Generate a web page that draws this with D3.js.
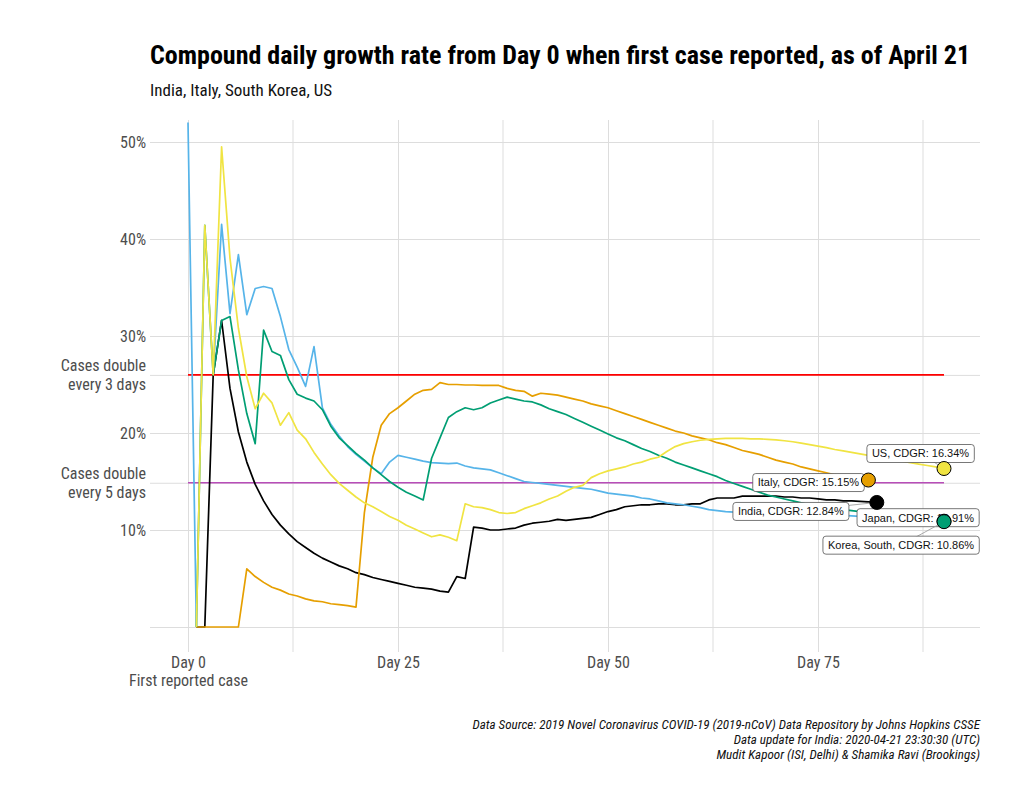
<!DOCTYPE html>
<html><head><meta charset="utf-8">
<script src="https://cdn.jsdelivr.net/npm/d3@7"></script>
<style>body{margin:0;background:#fff} svg{display:block}</style>
</head><body><svg id="chart" width="1024" height="806"></svg>
<script>
// ---------------- DATA ----------------
const countries = ["India", "Italy", "Japan", "Korea, South", "US"];
const startDays = [1, 1, 0, 1, 1];

const indiaValues = [0, 0, 26.0, 31.6, 24.6, 20.1, 17.0, 14.7, 13.0, 11.6, 10.5, 9.6, 8.8, 8.2, 7.6, 7.1, 6.7, 6.3, 6.0, 5.6,
  5.4, 5.1, 4.9, 4.7, 4.5, 4.3, 4.1, 4.0, 3.9, 3.7, 3.6, 5.2, 5.0, 10.3, 10.2, 10.0, 10.0, 10.1, 10.2, 10.5,
  10.7, 10.8, 10.9, 11.1, 11.0, 11.1, 11.2, 11.3, 11.6, 11.9, 12.1, 12.4, 12.5, 12.6, 12.6, 12.7, 12.7, 12.6, 12.6, 12.7,
  12.7, 13.1, 13.3, 13.3, 13.3, 13.5, 13.5, 13.5, 13.5, 13.5, 13.4, 13.4, 13.3, 13.3, 13.2, 13.1, 13.1, 13.0, 13.0, 12.95,
  12.9, 12.84];

const italyValues = [0, 0, 0, 0, 0, 0, 6.0, 5.2, 4.6, 4.1, 3.8, 3.4, 3.2, 2.9, 2.7, 2.6, 2.4, 2.3, 2.2, 2.05,
  11.8, 17.5, 20.8, 22.0, 22.6, 23.3, 24.0, 24.4, 24.5, 25.2, 25.0, 25.0, 24.95, 24.95, 24.9, 24.9, 24.9, 24.6, 24.4, 24.3,
  23.8, 24.1, 24.0, 23.9, 23.7, 23.5, 23.3, 23.0, 22.8, 22.6, 22.3, 22.0, 21.7, 21.4, 21.1, 20.8, 20.5, 20.2, 20.0, 19.7,
  19.5, 19.3, 19.0, 18.8, 18.5, 18.2, 18.0, 17.8, 17.5, 17.2, 17.0, 16.8, 16.5, 16.3, 16.1, 15.9, 15.7, 15.6, 15.4, 15.3,
  15.15];

const japanValues = [52.0, 0, null, 26.0, 41.5, 32.3, 38.4, 32.2, 34.9, 35.1, 34.9, 32.0, 28.6, 26.8, 24.8, 28.9, 22.6, 20.9, 19.7, 18.6,
  17.8, 17.1, 16.4, 15.8, 17.0, 17.7, 17.5, 17.3, 17.1, 16.95, 16.9, 16.85, 16.9, 16.6, 16.4, 16.3, 16.2, 15.9, 15.6, 15.3,
  15.0, 14.9, 14.8, 14.7, 14.6, 14.5, 14.4, 14.3, 14.2, 14.0, 13.8, 13.7, 13.6, 13.5, 13.3, 13.2, 13.0, 12.8, 12.7, 12.6,
  12.45, 12.3, 12.1, 12.0, 11.9, 11.85, 11.8, 11.8, 11.75, 11.7, 11.7, 11.65, 11.6, 11.6, 11.55, 11.55, 11.5, 11.5, 11.5, 11.45,
  11.4, 11.35, 11.3, 11.25, 11.2, 11.15, 11.1, 11.05, 11.0, 10.95, 10.91];

const koreaValues = [0, 41.4, 26.0, 31.6, 32.0, 26.5, 22.0, 18.9, 30.6, 28.4, 28.0, 25.5, 24.0, 23.6, 23.3, 22.4, 20.7, 19.5, 18.7, 17.9,
  17.2, 16.4, 15.7, 15.0, 14.4, 13.9, 13.5, 13.1, 17.4, 19.5, 21.6, 22.2, 22.6, 22.4, 22.6, 23.1, 23.4, 23.7, 23.5, 23.3,
  23.2, 22.9, 22.5, 22.2, 21.9, 21.5, 21.1, 20.7, 20.3, 19.9, 19.5, 19.2, 18.8, 18.4, 18.1, 17.7, 17.4, 17.0, 16.7, 16.4,
  16.1, 15.8, 15.5, 15.1, 14.8, 14.5, 14.2, 13.9, 13.6, 13.4, 13.2, 13.0, 12.8, 12.6, 12.5, 12.3, 12.2, 12.1, 12.0, 11.9,
  11.8, 11.7, 11.6, 11.5, 11.35, 11.25, 11.15, 11.05, 10.95, 10.86];

const usValues = [0, 41.4, 26.0, 49.5, 38.0, 30.8, 25.8, 22.5, 24.1, 23.1, 20.8, 22.1, 20.3, 19.4, 18.0, 16.8, 15.7, 14.8, 14.1, 13.4,
  12.8, 12.4, 11.9, 11.4, 11.0, 10.5, 10.1, 9.7, 9.3, 9.5, 9.25, 8.9, 12.7, 12.4, 12.3, 12.1, 11.8, 11.7, 11.8, 12.2,
  12.5, 12.8, 13.2, 13.5, 14.0, 14.4, 14.6, 15.4, 15.8, 16.1, 16.3, 16.5, 16.8, 17.0, 17.3, 17.5, 18.1, 18.6, 18.9, 19.1,
  19.25, 19.35, 19.4, 19.45, 19.45, 19.45, 19.4, 19.4, 19.35, 19.3, 19.2, 19.1, 18.95, 18.8, 18.65, 18.5, 18.3, 18.15, 18.0, 17.85,
  17.7, 17.55, 17.4, 17.25, 17.1, 16.95, 16.8, 16.65, 16.5, 16.34];

const endLabels = ["India, CDGR: 12.84%", "Italy, CDGR: 15.15%", "Japan, CDGR: 10.91%",
                   "Korea, South, CDGR: 10.86%", "US, CDGR: 16.34%"];

const xTickValues = [0, 25, 50, 75];
const xTickLabels = [["Day 0", "First reported case"], ["Day 25"], ["Day 50"], ["Day 75"]];
const xMinorTicks = [12.5, 37.5, 62.5, 87.5];
const yTickValues = [0, 10, 14.87, 20, 25.99, 30, 40, 50];
const yTickLabels = [[""], ["10%"], ["Cases double", "every 5 days"], ["20%"], ["Cases double", "every 3 days"], ["30%"], ["40%"], ["50%"]];
const refValues = [25.99, 14.87];
const refEndDay = 90;

const titleText = "Compound daily growth rate from Day 0 when first case reported, as of April 21";
const subtitleText = "India, Italy, South Korea, US";
const captionLines = [
  "Data Source: 2019 Novel Coronavirus COVID-19 (2019-nCoV) Data Repository by Johns Hopkins CSSE",
  "Data update for India: 2020-04-21 23:30:30 (UTC)",
  "Mudit Kapoor (ISI, Delhi) & Shamika Ravi (Brookings)"
];

// ---------------- STYLE / LAYOUT ----------------
const seriesColors = ["#000000", "#E69F00", "#56B4E9", "#009E73", "#F0E442"];
const refColors = ["#FF0000", "#B84DB8"];
const labelOffsets = [[-86, 9], [-60, 2.5], [-26, -3.5], [-43, 23.5], [-23.5, -15]];
const narrow = "'Liberation Sans Narrow','Arial Narrow','Roboto Condensed',sans-serif";
const regular = "'Liberation Sans',Arial,Helvetica,sans-serif";
const panel = {left: 150, right: 980, top: 120, bottom: 652};
const gridColor = "#dddddd";
const textGrey = "#4d4d4d";

const svg = d3.select("#chart");
svg.append("rect").attr("width", 1024).attr("height", 806).attr("fill", "#fff");

const x = d3.scaleLinear().domain([0, 75]).range([188, 818]);
const y = d3.scaleLinear().domain([0, 50]).range([627, 142]);

// minor vertical grid
svg.append("g").selectAll("line").data(xMinorTicks).join("line")
  .attr("x1", d => x(d)).attr("x2", d => x(d))
  .attr("y1", panel.top).attr("y2", panel.bottom)
  .attr("stroke", gridColor).attr("stroke-width", 1);

// y axis with gridlines
const yAxis = svg.append("g").attr("transform", `translate(${panel.left},0)`)
  .call(d3.axisLeft(y).tickValues(yTickValues).tickSize(-(panel.right - panel.left)).tickPadding(4));
yAxis.select(".domain").remove();
yAxis.selectAll(".tick line").attr("stroke", gridColor).attr("stroke-width", 1);
yAxis.selectAll(".tick text").each(function(d, i) {
  const t = d3.select(this);
  const lines = yTickLabels[i];
  t.text(null).attr("fill", textGrey).style("font-family", narrow).style("font-size", "16px").attr("dy", null);
  const lh = 1.18;
  lines.forEach((s, j) => {
    t.append("tspan").attr("x", -4)
      .attr("dy", j === 0 ? `${0.34 - (lines.length - 1) * lh / 2}em` : `${lh}em`)
      .text(s);
  });
});

// x axis with gridlines
const xAxis = svg.append("g").attr("transform", `translate(0,${panel.bottom})`)
  .call(d3.axisBottom(x).tickValues(xTickValues).tickSize(-(panel.bottom - panel.top)).tickPadding(4));
xAxis.select(".domain").remove();
xAxis.selectAll(".tick line").attr("stroke", gridColor).attr("stroke-width", 1);
xAxis.selectAll(".tick text").each(function(d, i) {
  const t = d3.select(this);
  const lines = xTickLabels[i];
  t.text(null).attr("fill", textGrey).style("font-family", narrow).style("font-size", "16px").attr("dy", null);
  lines.forEach((s, j) => {
    t.append("tspan").attr("x", 0).attr("dy", j === 0 ? "0.72em" : "1.18em").text(s);
  });
});

// reference lines
svg.append("g").selectAll("line").data(refValues).join("line")
  .attr("x1", x(0)).attr("x2", x(refEndDay))
  .attr("y1", d => y(d)).attr("y2", d => y(d))
  .attr("stroke", (d, i) => refColors[i]).attr("stroke-width", 1.6);

// series
const allValues = [indiaValues, italyValues, japanValues, koreaValues, usValues];
const series = countries.map((c, i) => ({
  name: c, color: seriesColors[i], label: endLabels[i], offset: labelOffsets[i],
  points: allValues[i].map((v, k) => ({day: startDays[i] + k, v}))
}));

const line = d3.line().defined(d => d.v !== null).x(d => x(d.day)).y(d => y(d.v));
svg.append("g").selectAll("path").data(series).join("path")
  .attr("d", d => line(d.points))
  .attr("fill", "none").attr("stroke", d => d.color)
  .attr("stroke-width", 1.7).attr("stroke-linejoin", "round");

// labels (segments + boxes)
const labG = svg.append("g");
series.forEach(s => {
  const last = s.points[s.points.length - 1];
  const px = x(last.day), py = y(last.v);
  const cx = px + s.offset[0], cy = py + s.offset[1];
  labG.append("line").attr("x1", px).attr("y1", py).attr("x2", cx).attr("y2", cy)
    .attr("stroke", "#a0a0a0").attr("stroke-width", 0.9);
  const g = labG.append("g");
  const txt = g.append("text").attr("x", cx).attr("y", cy).attr("dy", "0.35em")
    .attr("text-anchor", "middle").style("font-family", regular).style("font-size", "11px")
    .attr("fill", "#111").text(s.label);
  const bb = txt.node().getBBox();
  g.insert("rect", "text").attr("x", bb.x - 5).attr("y", cy - 9).attr("width", bb.width + 10).attr("height", 18)
    .attr("rx", 3).attr("fill", "#fff").attr("stroke", "#555").attr("stroke-width", 0.8);
});

// end points
svg.append("g").selectAll("circle").data(series).join("circle")
  .attr("cx", d => x(d.points[d.points.length - 1].day))
  .attr("cy", d => y(d.points[d.points.length - 1].v))
  .attr("r", 7).attr("fill", d => d.color).attr("stroke", "#000").attr("stroke-width", 1);

// title, subtitle, caption
svg.append("text").attr("x", 150).attr("y", 64).text(titleText)
  .style("font-family", narrow).style("font-weight", "bold").style("font-size", "26px").attr("fill", "#000");
svg.append("text").attr("x", 150).attr("y", 96).text(subtitleText)
  .style("font-family", narrow).style("font-size", "17px").attr("fill", "#111");
svg.append("g").selectAll("text").data(captionLines).join("text")
  .attr("x", 980).attr("y", (d, i) => 729 + i * 15).attr("text-anchor", "end")
  .style("font-family", narrow).style("font-style", "italic").style("font-size", "13.1px").attr("fill", "#111")
  .text(d => d);
</script></body></html>
